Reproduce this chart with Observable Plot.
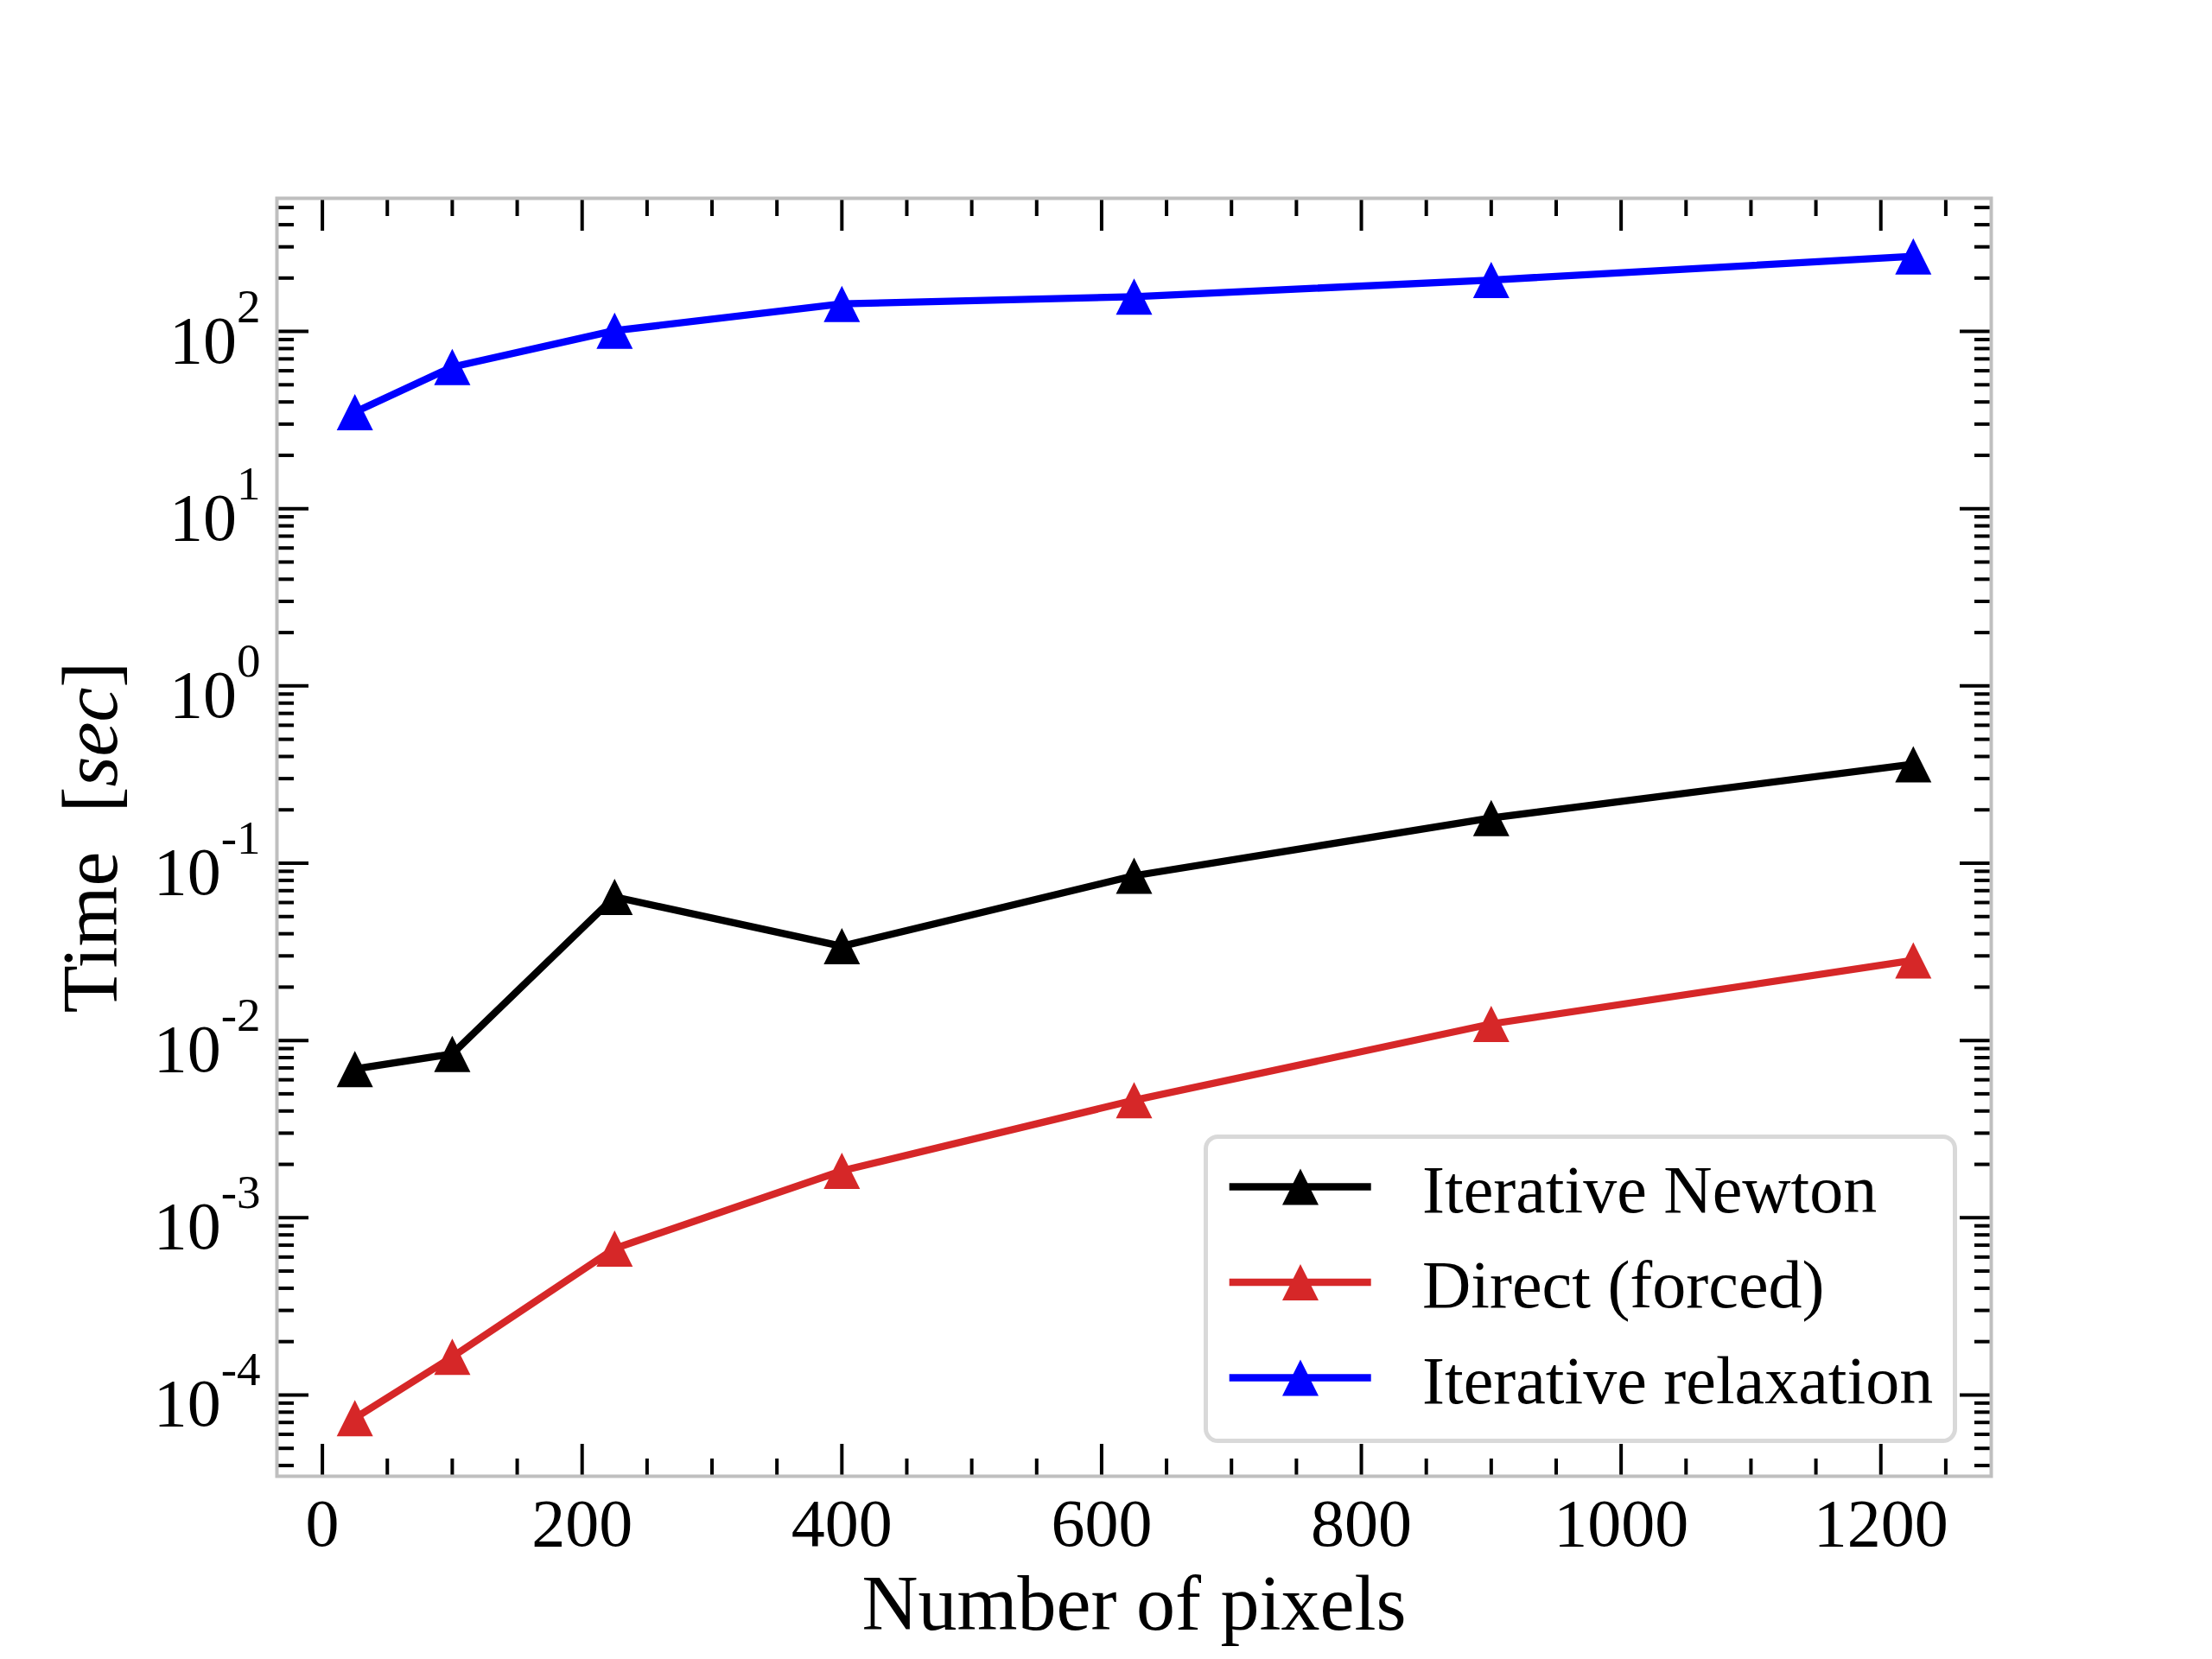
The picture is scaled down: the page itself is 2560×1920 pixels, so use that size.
<!DOCTYPE html>
<html><head><meta charset="utf-8">
<script src="https://cdn.jsdelivr.net/npm/d3@7"></script>
<script src="https://cdn.jsdelivr.net/npm/@observablehq/plot@0.6"></script>
<style>
html,body{margin:0;padding:0;background:#fff}
#chart{width:2560px;height:1920px}
</style>
</head><body><div id="chart"></div>
<script>
// ---- data ----
const pixels = [25, 100, 225, 400, 625, 900, 1225];
const newtonTime = [0.0069, 0.0084, 0.0646, 0.034, 0.085, 0.180, 0.362];
const directTime = [7.4e-5, 1.64e-4, 6.7e-4, 1.84e-3, 4.6e-3, 0.0124, 0.0283];
const relaxTime = [35, 63, 101, 143, 157, 195, 265];
const seriesNames = ["Iterative Newton", "Direct (forced)", "Iterative relaxation"];
const seriesColors = ["#000000", "#d62728", "#0000ff"];
const xMajorTicks = [0, 200, 400, 600, 800, 1000, 1200];
const xTickLabels = ["0", "200", "400", "600", "800", "1000", "1200"];
const xMinorTicks = [50, 100, 150, 250, 300, 350, 450, 500, 550, 650, 700, 750, 850, 900, 950, 1050, 1100, 1150, 1250];
const yMajorTicks = [1e-4, 1e-3, 1e-2, 1e-1, 1, 10, 100];
const yTickExponents = ["-4", "-3", "-2", "-1", "0", "1", "2"];
const xLabel = "Number of pixels";
const yLabelPlain = "Time";
const yLabelUnit = "sec";

// ---- table ----
const seriesValues = [newtonTime, directTime, relaxTime];
const rows = seriesNames.flatMap((s, i) => pixels.map((p, j) => ({series: s, pixels: p, time: seriesValues[i][j]})));

// matplotlib-style 5% margins
const [x0, x1] = d3.extent(pixels);
const xPad = 0.05 * (x1 - x0);
const xDomain = [x0 - xPad, x1 + xPad];
const allT = rows.map(d => Math.log10(d.time));
const [l0, l1] = d3.extent(allT);
const lPad = 0.05 * (l1 - l0);
const yDomain = [Math.pow(10, l0 - lPad), Math.pow(10, l1 + lPad)];
const yMinorTicks = yMajorTicks.concat([1e-5, 1000]).flatMap(m => [2,3,4,5,6,7,8,9].map(k => k * m))
  .filter(v => v > yDomain[0] && v < yDomain[1]);

// matplotlib '^' marker: bbox-centred triangle, width == height
const tri = {draw(ctx, size) { const r = Math.sqrt(size / Math.PI); ctx.moveTo(0, -r); ctx.lineTo(r, r); ctx.lineTo(-r, r); ctx.closePath(); }};

const FONT = "'Liberation Serif', 'Times New Roman', serif";
const tickW = 4, majorLen = 37, minorLen = 20;

const chart = Plot.plot({
  width: 2560, height: 1920,
  marginLeft: 320, marginRight: 256, marginTop: 229, marginBottom: 212,
  style: {fontFamily: FONT, background: "white", color: "black", overflow: "visible"},
  x: {type: "linear", domain: xDomain},
  y: {type: "log", domain: yDomain},
  color: {domain: seriesNames, range: seriesColors},
  marks: [
    Plot.line(rows, {x: "pixels", y: "time", z: "series", stroke: "series", strokeWidth: 8.3}),
    Plot.dot(rows, {x: "pixels", y: "time", fill: "series", r: 21, symbol: tri}),
    // inward ticks on all sides
    Plot.axisX({anchor: "bottom", ticks: xMajorTicks, tickSize: -majorLen, strokeWidth: tickW, fill: null, label: null}),
    Plot.axisX({anchor: "bottom", ticks: xMinorTicks, tickSize: -minorLen, strokeWidth: tickW, fill: null, label: null}),
    Plot.axisX({anchor: "top", ticks: xMajorTicks, tickSize: -majorLen, strokeWidth: tickW, fill: null, label: null}),
    Plot.axisX({anchor: "top", ticks: xMinorTicks, tickSize: -minorLen, strokeWidth: tickW, fill: null, label: null}),
    Plot.axisY({anchor: "left", ticks: yMajorTicks, tickSize: -majorLen, strokeWidth: tickW, fill: null, label: null}),
    Plot.axisY({anchor: "left", ticks: yMinorTicks, tickSize: -minorLen, strokeWidth: tickW, fill: null, label: null}),
    Plot.axisY({anchor: "right", ticks: yMajorTicks, tickSize: -majorLen, strokeWidth: tickW, fill: null, label: null}),
    Plot.axisY({anchor: "right", ticks: yMinorTicks, tickSize: -minorLen, strokeWidth: tickW, fill: null, label: null}),
    // tick labels
    Plot.axisX({anchor: "bottom", ticks: xMajorTicks, tickSize: 0, tickPadding: 25, stroke: null, label: null, fontSize: 78,
      tickFormat: d => xTickLabels[xMajorTicks.indexOf(d)]}),
    Plot.axisY({anchor: "left", ticks: yMajorTicks, tickSize: 0, tickPadding: 19, stroke: null, label: null, fontSize: 78,
      tickFormat: d => "10^" + yTickExponents[yMajorTicks.indexOf(d)]}),
    Plot.frame({stroke: "#bfbfbf", strokeWidth: 4}),
    // axis titles
    Plot.text([xLabel], {frameAnchor: "bottom", dy: 177, lineAnchor: "bottom", textAnchor: "middle", fontSize: 90, text: d => d, fill: "black"}),
    Plot.text([yLabelPlain], {frameAnchor: "left", dx: -186, rotate: -90, lineAnchor: "bottom", textAnchor: "middle", fontSize: 90, text: d => d, fill: "black"})
  ]
});

document.getElementById("chart").appendChild(chart);
const svg = d3.select(chart);

// superscript exponents on y tick labels
svg.selectAll('g[aria-label="y-axis tick label"] text').each(function() {
  const t = this.textContent;
  const exp = t.split("^")[1];
  const sel = d3.select(this);
  sel.text(null).attr("y", 36);
  sel.append("tspan").text("10");
  sel.append("tspan").attr("dy", -47).attr("font-size", 55).text(exp);
});

// italic unit in the y title
svg.selectAll("text").filter(function() { return this.textContent === yLabelPlain; }).each(function() {
  const sel = d3.select(this);
  sel.text(null);
  sel.append("tspan").text(yLabelPlain + "\u00a0\u00a0[");
  sel.append("tspan").attr("font-style", "italic").text(yLabelUnit);
  sel.append("tspan").text("]");
});

// legend (matplotlib style box, lower right)
const lg = svg.append("g").attr("font-family", FONT).attr("text-anchor", "start");
lg.append("rect").attr("x", 1395.5).attr("y", 1315.5).attr("width", 867).attr("height", 352)
  .attr("rx", 14).attr("fill", "white").attr("fill-opacity", 0.8).attr("stroke", "#d9d9d9").attr("stroke-width", 5);
const triPath = d3.symbol().type(tri).size(21 * 21 * Math.PI)();
seriesNames.forEach((name, i) => {
  const cy = 1373.5 + i * 110.5;
  lg.append("line").attr("x1", 1422.7).attr("x2", 1586.7).attr("y1", cy).attr("y2", cy)
    .attr("stroke", seriesColors[i]).attr("stroke-width", 8.3);
  lg.append("path").attr("d", triPath).attr("transform", `translate(1505,${cy})`).attr("fill", seriesColors[i]);
  lg.append("text").attr("x", 1646).attr("y", cy + 29).attr("font-size", 78).attr("fill", "black")
    .attr("text-anchor", "start").text(name);
});
</script>
</body></html>
